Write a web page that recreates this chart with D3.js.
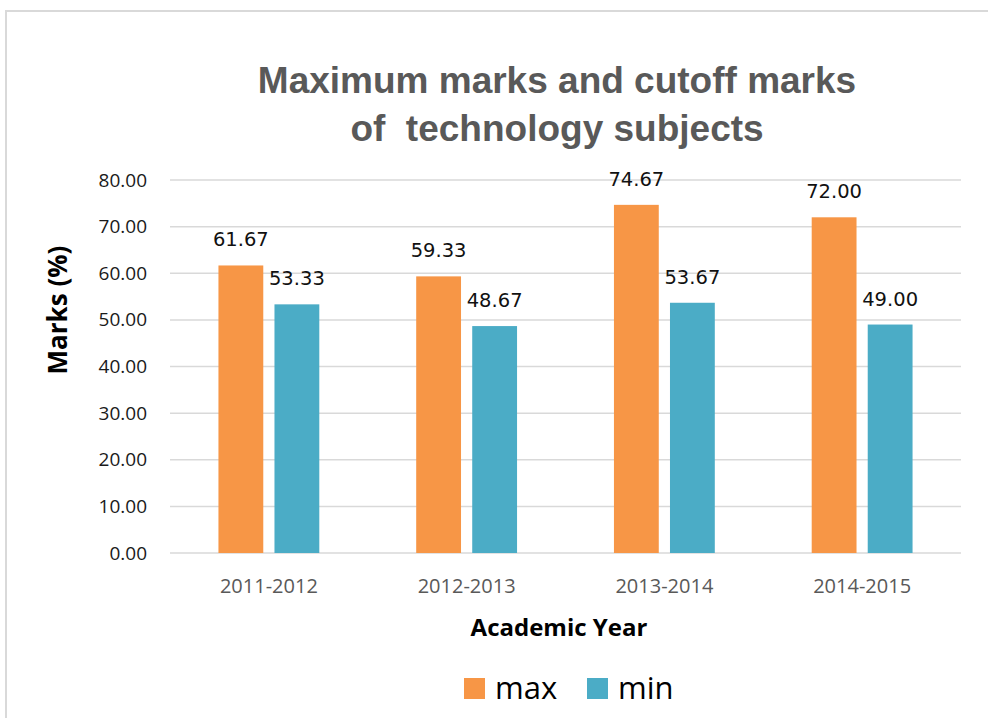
<!DOCTYPE html>
<html>
<head>
<meta charset="utf-8">
<script src="https://cdn.jsdelivr.net/npm/d3@7"></script>
<style>
  body { margin: 0; background: #fff; }
  svg { display: block; }
</style>
</head>
<body>
<svg id="chart"></svg>
<script>
// data
const years = ["2011-2012", "2012-2013", "2013-2014", "2014-2015"];
const seriesNames = ["max", "min"];
const maxMarks = [61.67, 59.33, 74.67, 72.00];
const minMarks = [53.33, 48.67, 53.67, 49.00];
const yTicks = [0, 10, 20, 30, 40, 50, 60, 70, 80];

const colors = { max: "#F79646", min: "#4BACC6" };
const width = 988, height = 718;
const margin = { top: 180, right: 27, bottom: 165, left: 170 };

const svg = d3.select("#chart").attr("width", width).attr("height", height);

// outer frame
svg.append("path")
    .attr("d", `M6,${height + 5} V11 H${width + 5}`)
    .attr("fill", "none")
    .attr("stroke", "#d9d9d9")
    .attr("stroke-width", 2);

const rows = years.map((y, i) => ({ year: y, max: maxMarks[i], min: minMarks[i] }));

const x0 = d3.scaleBand()
    .domain(years)
    .range([margin.left, width - margin.right])
    .paddingInner(0.49)
    .paddingOuter(0.245);

const x1 = d3.scaleBand()
    .domain(seriesNames)
    .range([0, x0.bandwidth()])
    .paddingInner(0.2);

const y = d3.scaleLinear()
    .domain([0, 80])
    .range([height - margin.bottom, margin.top]);

// gridlines
svg.append("g")
    .selectAll("line")
    .data(yTicks)
    .enter().append("line")
    .attr("x1", margin.left)
    .attr("x2", width - margin.right)
    .attr("y1", d => y(d))
    .attr("y2", d => y(d))
    .attr("stroke", "#d9d9d9")
    .attr("stroke-width", 1.5);

// y axis labels
const yAxis = svg.append("g")
    .attr("transform", `translate(${margin.left},0)`)
    .call(d3.axisLeft(y).tickValues(yTicks).tickFormat(d3.format(".2f")).tickSize(0).tickPadding(23));
yAxis.select(".domain").remove();
yAxis.selectAll("text")
    .attr("font-family", "'Open Sans', sans-serif")
    .attr("font-size", 19)
    .attr("fill", "#1a1a1a");

// x axis labels
const xAxis = svg.append("g")
    .attr("transform", `translate(0,${height - margin.bottom})`)
    .call(d3.axisBottom(x0).tickSize(0).tickPadding(26));
xAxis.select(".domain").remove();
xAxis.selectAll("text")
    .attr("font-family", "'Open Sans', sans-serif")
    .attr("font-size", 20)
    .attr("fill", "#595959");

// bars
const groups = svg.append("g")
    .selectAll("g")
    .data(rows)
    .enter().append("g")
    .attr("transform", d => `translate(${x0(d.year)},0)`);

groups.selectAll("rect")
    .data(d => seriesNames.map(k => ({ key: k, value: d[k] })))
    .enter().append("rect")
    .attr("x", d => x1(d.key))
    .attr("y", d => y(d.value))
    .attr("width", x1.bandwidth())
    .attr("height", d => y(0) - y(d.value))
    .attr("fill", d => colors[d.key]);

// value labels
groups.selectAll("text")
    .data(d => seriesNames.map(k => ({ key: k, value: d[k] })))
    .enter().append("text")
    .attr("x", d => x1(d.key) + x1.bandwidth() / 2)
    .attr("y", d => y(d.value) - 19)
    .attr("text-anchor", "middle")
    .attr("font-family", "'DejaVu Sans', sans-serif")
    .attr("font-size", 19.5)
    .attr("fill", "#111")
    .text(d => d3.format(".2f")(d.value));

// title
const title = svg.append("text")
    .attr("x", 557)
    .attr("text-anchor", "middle")
    .attr("font-family", "'Liberation Sans', sans-serif")
    .attr("font-weight", "bold")
    .attr("font-size", 37)
    .attr("fill", "#595959");
title.append("tspan").attr("x", 557).attr("y", 93).text("Maximum marks and cutoff marks");
title.append("tspan").attr("x", 557).attr("y", 141).attr("xml:space", "preserve").text("of  technology subjects");

// axis titles
svg.append("text")
    .attr("transform", "translate(67,310) rotate(-90)")
    .attr("text-anchor", "middle")
    .attr("font-family", "'Open Sans', sans-serif")
    .attr("font-weight", "bold")
    .attr("font-size", 26)
    .attr("fill", "#000")
    .text("Marks (%)");

svg.append("text")
    .attr("x", 559)
    .attr("y", 636)
    .attr("text-anchor", "middle")
    .attr("font-family", "'Open Sans', sans-serif")
    .attr("font-weight", "bold")
    .attr("font-size", 24)
    .attr("fill", "#000")
    .text("Academic Year");

// legend
const legend = svg.append("g")
    .selectAll("g")
    .data(seriesNames)
    .enter().append("g")
    .attr("transform", (d, i) => `translate(${464 + i * 123},678)`);
legend.append("rect")
    .attr("width", 21)
    .attr("height", 21)
    .attr("fill", d => colors[d]);
legend.append("text")
    .attr("x", 31)
    .attr("y", 21)
    .attr("font-family", "'Open Sans', sans-serif")
    .attr("font-size", 31)
    .attr("fill", "#000")
    .text(d => d);
</script>
</body>
</html>
